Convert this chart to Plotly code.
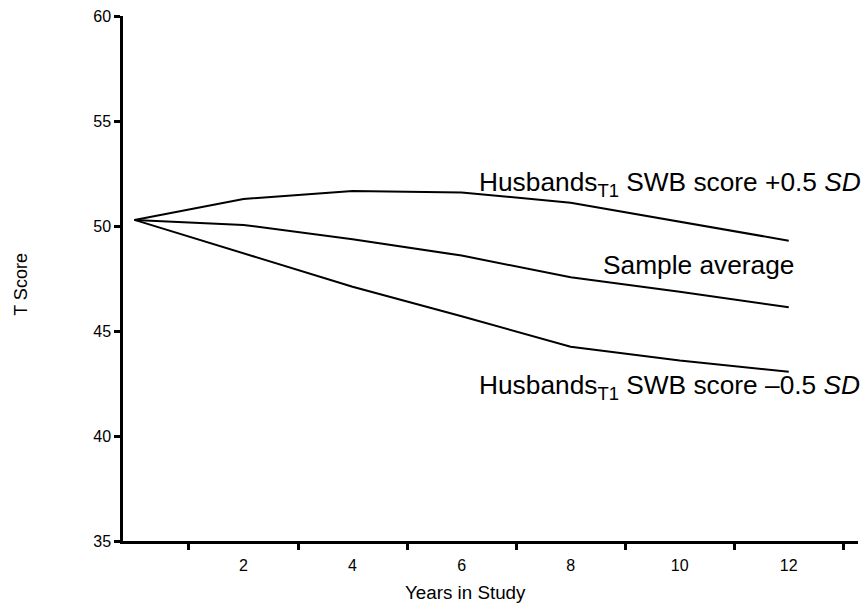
import plotly.graph_objects as go

years = [0, 2, 4, 6, 8, 10, 12]
high_swb = [50.29, 51.29, 51.67, 51.60, 51.11, 50.20, 49.30]
sample_avg = [50.29, 50.05, 49.37, 48.59, 47.56, 46.87, 46.13]
low_swb = [50.29, 48.70, 47.11, 45.70, 44.25, 43.59, 43.06]

x_labels = [2, 4, 6, 8, 10, 12]
x_minor = [1, 3, 5, 7, 9, 11, 13]
y_ticks = [35, 40, 45, 50, 55, 60]

FONT = "Arial, 'Liberation Sans', sans-serif"

fig = go.Figure()
for ys in (high_swb, sample_avg, low_swb):
    fig.add_trace(go.Scatter(x=years, y=ys, mode="lines",
                             line=dict(color="black", width=2),
                             showlegend=False, hoverinfo="skip"))

fig.update_layout(
    width=867, height=605,
    margin=dict(l=123, r=9, t=16, b=64),
    paper_bgcolor="white", plot_bgcolor="white",
    font=dict(family=FONT, color="black"),
    xaxis=dict(range=[-0.21, 13.27], tickvals=x_labels, ticktext=[str(v) for v in x_labels],
               ticks="", showgrid=False, zeroline=False,
               showline=True, linecolor="black", linewidth=2.5,
               tickfont=dict(size=16), ticklabelstandoff=8,
               minor=dict(tickvals=x_minor, ticks="outside", ticklen=6,
                          tickwidth=2.5, tickcolor="black", showgrid=False)),
    yaxis=dict(range=[35, 60], tickvals=y_ticks, ticks="outside", ticklen=6,
               tickwidth=2.5, tickcolor="black", showgrid=False, zeroline=False,
               showline=True, linecolor="black", linewidth=2.5,
               tickfont=dict(size=16), ticklabelstandoff=0),
    annotations=[
        dict(text="Years in Study", xref="x", yref="paper", x=6.08, y=0, yshift=-51,
             xanchor="center", yanchor="middle", showarrow=False, font=dict(size=18.8)),
        dict(text="T Score", xref="paper", yref="y", x=0, xshift=-102, y=47.2,
             textangle=-90, xanchor="center", yanchor="middle", showarrow=False,
             font=dict(size=18)),
        dict(text="Husbands<sub>T1</sub> SWB score +0.5 <i>SD</i>", xref="x", yref="y",
             x=6.29, y=52.0, xanchor="left", yanchor="middle", showarrow=False,
             font=dict(size=26.3)),
        dict(text="Sample average", xref="x", yref="y",
             x=10.36, y=48.14, xanchor="center", yanchor="middle", showarrow=False,
             font=dict(size=26.3)),
        dict(text="Husbands<sub>T1</sub> SWB score \u20130.5 <i>SD</i>", xref="x", yref="y",
             x=6.29, y=42.35, xanchor="left", yanchor="middle", showarrow=False,
             font=dict(size=26.3)),
    ],
)

fig.write_html("out.html")
